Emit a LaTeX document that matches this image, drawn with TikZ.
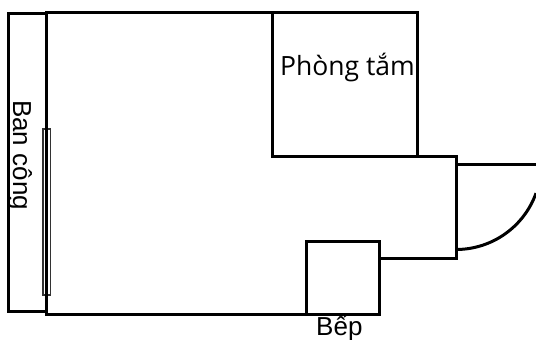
\documentclass[tikz,border=0pt]{standalone}
\usepackage{fontspec}
\setmainfont{Liberation Sans}
\newfontfamily\roomfont{Open Sans}
\tikzset{
    wall/.style={line width=3pt, line join=miter},
    label/.style={inner sep=0pt, anchor=base west, font=\fontsize{26}{30}\selectfont}
}
\begin{document}
\begin{tikzpicture}[x=1pt, y=-1pt]
    \useasboundingbox (0,0) rectangle (536,340);

    % Balcony and window
    \draw[wall] (46,13) -- (8.5,13) -- (8.5,311) -- (46,311);
    \draw[line width=1.2pt, black!80] (43,129) rectangle (50.5,295);

    % Outer walls
    \draw[wall] (46,12) -- (417,12) -- (417,156) -- (456,156) -- (456,258) -- (379,258)
        -- (379,314) -- (46,314) -- cycle;

    % Bathroom and kitchen
    \draw[wall] (272,12) -- (272,156) -- (417,156);
    \draw[wall] (306,314) -- (306,241.5) -- (379,241.5) -- (379,258);

    % Door
    \draw[wall] (456,164.5) -- (536,164.5);
    \draw[wall, domain=90:19.7, samples=40] plot ({456+85*cos(\x)},{164.5+85*sin(\x)});

    % Adding labels
    \node[label, font=\roomfont\fontsize{26.5}{30}\selectfont] (bath) at (280,75) {Phòng tắm};
    \node[label, rotate=-90] (balcony) at (13,100) {Ban công};
    \node[label] (kitchen) at (316,335) {Bếp};
\end{tikzpicture}
\end{document}
